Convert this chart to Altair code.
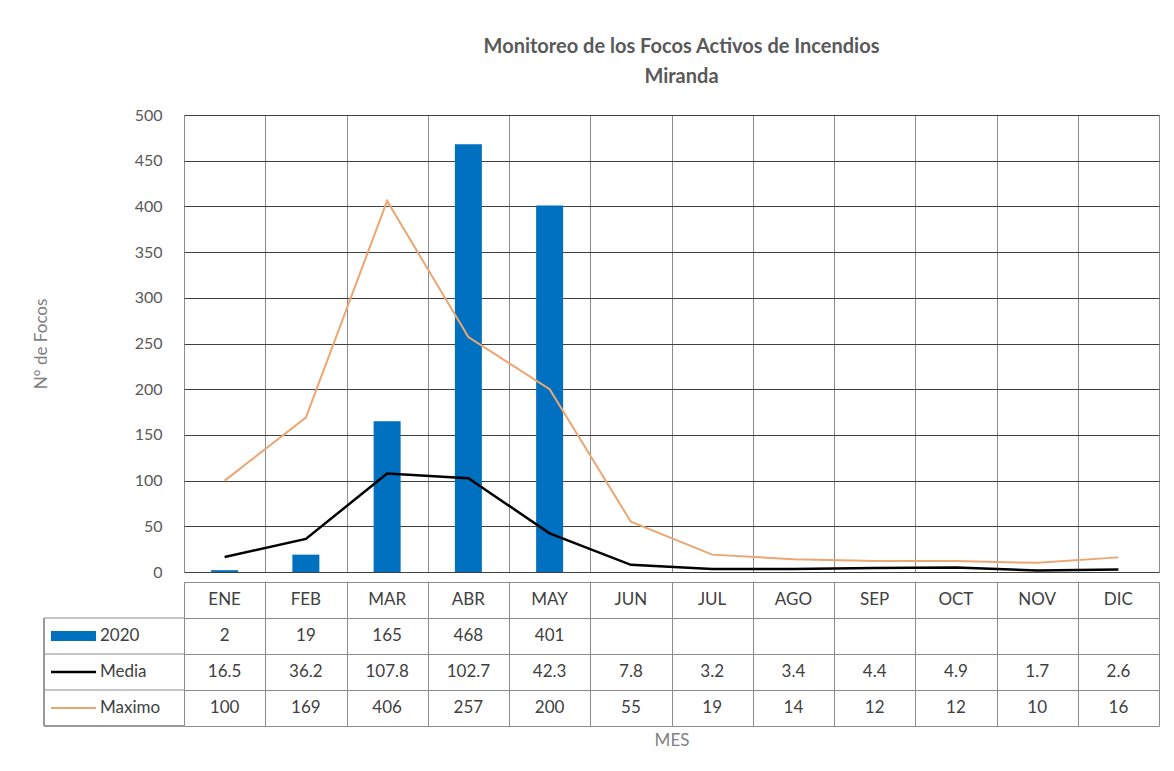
import altair as alt
import pandas as pd

meses = ["ENE", "FEB", "MAR", "ABR", "MAY", "JUN", "JUL", "AGO", "SEP", "OCT", "NOV", "DIC"]
v2020 = [2, 19, 165, 468, 401, None, None, None, None, None, None, None]
media = [16.5, 36.2, 107.8, 102.7, 42.3, 7.8, 3.2, 3.4, 4.4, 4.9, 1.7, 2.6]
maximo = [100, 169, 406, 257, 200, 55, 19, 14, 12, 12, 10, 16]

series = ["2020", "Media", "Maximo"]
colores = ["#0070C0", "#000000", "#ECA672"]
grosor = [10, 2.5, 2]

FONT = "Lato"
W = 975

df_bar = pd.DataFrame({"mes": meses, "valor": v2020}).dropna()
df_media = pd.DataFrame({"mes": meses, "valor": media})
df_max = pd.DataFrame({"mes": meses, "valor": maximo})

x_plot = alt.X(
    "mes:N", sort=meses,
    scale=alt.Scale(domain=meses, paddingInner=0, paddingOuter=0),
    axis=alt.Axis(labels=False, ticks=False, domain=False, grid=True,
                  tickBand="extent", gridColor="#8c8c8c", gridWidth=1, title=None,
                  minExtent=0, maxExtent=0, labelPadding=0),
)
y_plot = alt.Y(
    "valor:Q",
    scale=alt.Scale(domain=[0, 500], nice=False),
    axis=alt.Axis(values=list(range(0, 501, 50)), grid=True, gridColor="#404040",
                  gridWidth=1, domain=False, ticks=False, labelPadding=22,
                  labelFont=FONT, labelFontSize=16, labelColor="#595959",
                  title="N° de Focos", titleFont=FONT, titleFontSize=17,
                  titleFontWeight="normal", titleColor="#7f7f7f", titlePadding=84),
)

bars = alt.Chart(df_bar).mark_bar(size=27, color=colores[0]).encode(x=x_plot, y=y_plot)
l_max = alt.Chart(df_max).mark_line(color=colores[2], strokeWidth=grosor[2]).encode(
    x=alt.X("mes:N", sort=meses), y="valor:Q")
l_media = alt.Chart(df_media).mark_line(color=colores[1], strokeWidth=grosor[1]).encode(
    x=alt.X("mes:N", sort=meses), y="valor:Q")

plot = alt.layer(bars, l_max, l_media).properties(
    width=W, height=457,
    title=alt.Title(["Monitoreo de los Focos Activos de Incendios", "Miranda"],
                    anchor="middle", font=FONT, fontSize=20, fontWeight="bold",
                    color="#595959", lineHeight=30, offset=20, dx=10),
)

# ---- data table ----
def fmt(v):
    return "" if v is None else f"{v:g}"

filas = ["_meses"] + series
rows = []
for i, m in enumerate(meses):
    rows.append({"mes": m, "fila": "_meses", "texto": m})
    rows.append({"mes": m, "fila": "2020", "texto": fmt(v2020[i])})
    rows.append({"mes": m, "fila": "Media", "texto": fmt(media[i])})
    rows.append({"mes": m, "fila": "Maximo", "texto": fmt(maximo[i])})
df_tab = pd.DataFrame(rows)

df_leg = pd.DataFrame({"fila": series, "color": colores, "w": grosor})

x_tab = alt.X(
    "mes:N", sort=meses,
    scale=alt.Scale(domain=meses, paddingInner=0, paddingOuter=0),
    axis=alt.Axis(labels=False, ticks=False, domain=False, grid=True,
                  tickBand="extent", gridColor="#8c8c8c", gridWidth=1,
                  title="MES", titleFont=FONT, titleFontSize=17,
                  titleFontWeight="normal", titleColor="#7f7f7f", titlePadding=6),
)
y_tab = alt.Y(
    "fila:N", sort=filas,
    scale=alt.Scale(domain=filas, paddingInner=0, paddingOuter=0),
    axis=alt.Axis(labels=False, domain=False, grid=True, gridColor="#8c8c8c",
                  tickBand="extent", ticks=False, title=None),
)

textos = alt.Chart(df_tab).mark_text(font=FONT, fontSize=17, color="#404040").encode(
    x=x_tab, y=y_tab, text="texto:N")

borde_izq = alt.Chart(df_leg).mark_rule(color="#8c8c8c", strokeWidth=1).encode(
    x=alt.value(-140), y=alt.value(36), y2=alt.value(144))
borde_filas = alt.Chart(df_leg).mark_rule(color="#8c8c8c", strokeWidth=1).encode(
    x=alt.value(-140), x2=alt.value(0),
    y=alt.Y("fila:N", sort=filas, bandPosition=0))
borde_inf = alt.Chart(df_leg).mark_rule(color="#8c8c8c", strokeWidth=1).encode(
    x=alt.value(-140), x2=alt.value(0), y=alt.value(144))

simbolos = alt.Chart(df_leg).mark_rule().encode(
    x=alt.value(-133), x2=alt.value(-88),
    y=alt.Y("fila:N", sort=filas),
    color=alt.Color("color:N", scale=None),
    strokeWidth=alt.StrokeWidth("w:Q", scale=None),
)
etiquetas = alt.Chart(df_leg).mark_text(
    align="left", font=FONT, fontSize=17, color="#404040").encode(
    x=alt.value(-84), y=alt.Y("fila:N", sort=filas), text="fila:N")

tabla = alt.layer(textos, borde_izq, borde_filas, borde_inf, simbolos, etiquetas).properties(
    width=W, height=144)

chart = alt.vconcat(plot, tabla, spacing=0).properties(
    padding={"left": 23, "top": 28, "right": 5, "bottom": 5}
).configure_view(strokeWidth=0).configure(background="white")

chart.save("out.html", embed_options={"renderer": "svg", "actions": False})
